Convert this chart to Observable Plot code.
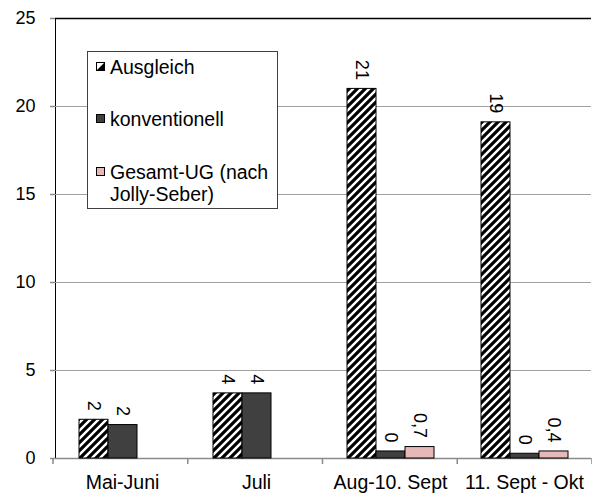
<!DOCTYPE html>
<html><head><meta charset="utf-8">
<script src="https://cdn.jsdelivr.net/npm/d3@7"></script>
<script src="https://cdn.jsdelivr.net/npm/@observablehq/plot@0.6"></script>
<style>
body{margin:0;background:#fff;font-family:"Liberation Sans",Arial,sans-serif;}
#wrap{position:relative;width:592px;height:494px;}
#legend{position:absolute;left:87px;top:51px;width:189px;height:156px;border:1px solid #404040;background:#fff;font-size:19.5px;line-height:22px;color:#000;}
#legend .item{position:absolute;left:22px;}
#legend .sw{position:absolute;left:-14px;top:6px;width:9px;height:9px;box-sizing:border-box;border:1px solid #000;}
#legend svg.sw{border:none}
</style></head><body><div id="wrap"></div>
<script>
const categories = ["Mai-Juni", "Juli", "Aug-10. Sept", "11. Sept - Okt"];
const seriesNames = ["Ausgleich", "konventionell", "Gesamt-UG (nach Jolly-Seber)"];
const seriesColors = ["url(#hatch)", "#404040", "#e6b9b8"];
const ausgleich = [2.2, 3.7, 21.0, 19.1];
const konventionell = [1.9, 3.7, 0.4, 0.27];
const gesamtUG = [null, null, 0.65, 0.4];
const ausgleichLabels = ["2", "4", "21", "19"];
const konventionellLabels = ["2", "4", "0", "0"];
const gesamtLabels = [null, null, "0,7", "0,4"];
const yTicks = [0, 5, 10, 15, 20, 25];

const seriesValues = [ausgleich, konventionell, gesamtUG];
const seriesLabels = [ausgleichLabels, konventionellLabels, gesamtLabels];
const rows = [];
categories.forEach((c, i) => {
  seriesNames.forEach((s, j) => {
    rows.push({cat: c, series: s, value: seriesValues[j][i], label: seriesLabels[j][i]});
  });
});
const barRows = rows.filter(d => d.value != null);

const font = '"Liberation Sans", Arial, sans-serif';
const chart = Plot.plot({
  width: 592, height: 494,
  marginLeft: 53, marginRight: 0, marginTop: 18, marginBottom: 36,
  style: {fontFamily: font, fontSize: "18px", background: "#fff", color: "#000"},
  facet: {data: barRows, x: "cat"},
  fx: {domain: categories, padding: 0, label: null, axis: "bottom", tickSize: 0, tickPadding: 17},
  x: {domain: seriesNames, paddingInner: 0, paddingOuter: 0.746, axis: null},
  y: {domain: [0, 25], ticks: yTicks, tickSize: 5, tickPadding: 15, label: null, line: true},
  color: {type: "ordinal", domain: seriesNames, range: seriesColors},
  marks: [
    Plot.ruleY(yTicks.filter(t => t > 0 && t < 25), {y: d => d, stroke: "#a0a0a0", strokeWidth: 1}),
    Plot.ruleY([25], {y: d => d, stroke: "#000", strokeWidth: 1.5}),
    Plot.ruleY([0], {y: d => d, stroke: "#8a8a8a", strokeWidth: 1.5}),
    Plot.barY(barRows, {x: "series", y: "value", fill: "series", stroke: "#000", strokeWidth: 1}),
    Plot.text(barRows, {x: "series", y: "value", text: "label", rotate: 90, textAnchor: "end", dy: -9, fontSize: 18, fill: "#000"})
  ]
});

const svg = d3.select(chart);
svg.insert("defs", ":first-child").html(
  '<pattern id="hatch" patternUnits="userSpaceOnUse" width="8" height="8">' +
  '<rect width="8" height="8" fill="#fff"/>' +
  '<path d="M-2,2 l4,-4 M0,8 l8,-8 M6,10 l4,-4" stroke="#000" stroke-width="3.2"/>' +
  '</pattern>');
svg.selectAll('g[aria-label^="y-axis"] path, g[aria-label^="y-axis"] line').attr("stroke", "#8a8a8a").style("stroke", "#8a8a8a").style("stroke-width", "1.5");
svg.selectAll('g[aria-label^="fx-axis"] text').style("font-size", "19.5px");

// category boundary ticks derived from the fx and y scales
const fxDesc = chart.scale("fx");
const yDesc = chart.scale("y");
const fxBand = d3.scaleBand().domain(fxDesc.domain).range(fxDesc.range).paddingInner(0).paddingOuter(0);
const yLin = d3.scaleLinear().domain(yDesc.domain).range(yDesc.range);
const bounds = categories.map(c => fxBand(c)).concat([fxBand(categories[categories.length - 1]) + fxBand.bandwidth()]);
const g = svg.append("g").attr("aria-label", "category-boundaries");
bounds.forEach(b => {
  g.append("line").attr("x1", b).attr("x2", b).attr("y1", yLin(0)).attr("y2", yLin(0) + 6)
   .attr("stroke", "#8a8a8a").attr("stroke-width", 1.5);
});

const wrap = document.getElementById("wrap");
wrap.appendChild(chart);

// legend overlay
const legend = document.createElement("div");
legend.id = "legend";
const legendTops = [4, 56, 109];
const legendLines = [["Ausgleich"], ["konventionell"], ["Gesamt-UG (nach", "Jolly-Seber)"]];
seriesNames.forEach((s, j) => {
  const item = document.createElement("div");
  item.className = "item";
  item.style.top = legendTops[j] + "px";
  if (j === 0) {
    item.innerHTML = '<svg class="sw" width="9" height="9" viewBox="0 0 9 9"><rect x="0.5" y="0.5" width="8" height="8" fill="#fff" stroke="#000"/><path d="M0.5,8.5 L8.5,0.5 L8.5,8.5 Z" fill="#000"/></svg>';
  } else {
    const sw = document.createElement("div");
    sw.className = "sw";
    sw.style.background = seriesColors[j];
    item.appendChild(sw);
  }
  legendLines[j].forEach((t, k) => {
    const line = document.createElement("div");
    line.textContent = t;
    item.appendChild(line);
  });
  legend.appendChild(item);
});
wrap.appendChild(legend);
</script></body></html>
